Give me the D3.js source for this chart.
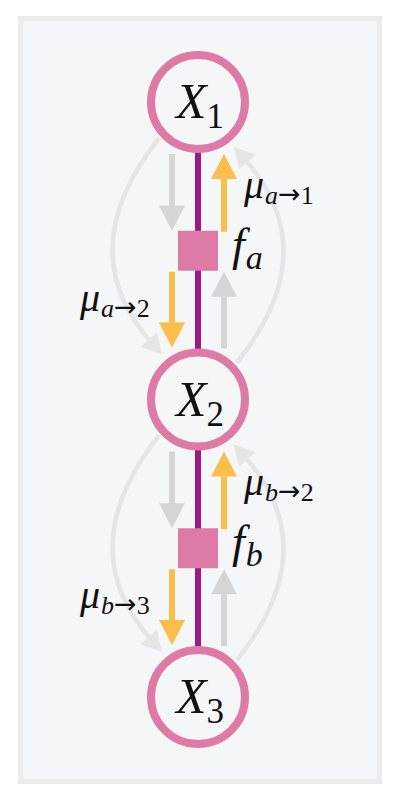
<!DOCTYPE html>
<html>
<head>
<meta charset="utf-8">
<script src="https://cdn.jsdelivr.net/npm/d3@7"></script>
<style>
  html, body { margin: 0; padding: 0; background: #fff; }
  svg { display: block; }
  text { font-family: "Liberation Serif", serif; fill: #111; }
</style>
</head>
<body>
<svg id="chart" width="400" height="800"></svg>
<script>
// chain of the factor graph, top to bottom
const variables = [
  { id: 'X1', name: 'X', sub: '1', pos: 0 },
  { id: 'X2', name: 'X', sub: '2', pos: 2 },
  { id: 'X3', name: 'X', sub: '3', pos: 4 },
];
const factors = [
  { id: 'a', pos: 1, upper: 'X1', lower: 'X2' },
  { id: 'b', pos: 3, upper: 'X2', lower: 'X3' },
];
// straight messages along each edge; factor -> variable ones are highlighted
const messages = [
  { factor: 'a', dir: 'down', from: 'X1', to: 'a', label: null },
  { factor: 'a', dir: 'up', from: 'a', to: 'X1', label: ['a', '1'] },
  { factor: 'a', dir: 'down', from: 'a', to: 'X2', label: ['a', '2'] },
  { factor: 'a', dir: 'up', from: 'X2', to: 'a', label: null },
  { factor: 'b', dir: 'down', from: 'X2', to: 'b', label: null },
  { factor: 'b', dir: 'up', from: 'b', to: 'X2', label: ['b', '2'] },
  { factor: 'b', dir: 'down', from: 'b', to: 'X3', label: ['b', '3'] },
  { factor: 'b', dir: 'up', from: 'X3', to: 'b', label: null },
];
// variable-to-variable passes drawn as faint curves
const curves = [
  { from: 'X1', to: 'X2', side: 'left' },
  { from: 'X2', to: 'X1', side: 'right' },
  { from: 'X2', to: 'X3', side: 'left' },
  { from: 'X3', to: 'X2', side: 'right' },
];

const cx = 198;
const nodeR = 47, nodeStroke = 8;
const boxSize = 40;
const colors = {
  panel: '#f5f6f8',
  border: '#ececec',
  pink: '#dd7ba6',
  edge: '#9b1a87',
  msg: '#f9be4b',
  grey: '#d5d5d5',
  curve: '#e4e5e5',
};

const y = d3.scaleLinear().domain([0, 4]).range([102, 697]);
const varById = new Map(variables.map((d) => [d.id, d]));
const facById = new Map(factors.map((d) => [d.id, d]));

const svg = d3.select('#chart');

// panel
svg.append('rect')
  .attr('x', 20.5).attr('y', 18.5)
  .attr('width', 359).attr('height', 763)
  .attr('fill', colors.panel)
  .attr('stroke', colors.border)
  .attr('stroke-width', 5);

function arrowHead(g, tip, dir, len, half, fill) {
  const [ux, uy] = dir;
  const bx = tip[0] - ux * len, by = tip[1] - uy * len;
  const px = -uy, py = ux;
  g.append('path')
    .attr('d', `M${tip[0]},${tip[1]}L${bx + px * half},${by + py * half}L${bx - px * half},${by - py * half}Z`)
    .attr('fill', fill);
}

// curved arrows
const curveG = svg.append('g').attr('class', 'curves');
curves.forEach((c) => {
  const a = y(varById.get(c.from).pos);
  const b = y(varById.get(c.to).pos);
  const down = b > a;
  const s = c.side === 'left' ? -1 : 1;
  const start = [cx + s * 39, a + (down ? 36 : -37)];
  const tip = [cx + s * 36, b + (down ? -45 : 45)];
  const ctrl = [cx + s * 128, (a + b) / 2];
  const len = 20;
  let dx = tip[0] - ctrl[0], dy = tip[1] - ctrl[1];
  const n = Math.hypot(dx, dy);
  dx /= n; dy /= n;
  const end = [tip[0] - dx * (len - 4), tip[1] - dy * (len - 4)];
  const p = d3.path();
  p.moveTo(start[0], start[1]);
  p.quadraticCurveTo(ctrl[0], ctrl[1], end[0], end[1]);
  curveG.append('path')
    .attr('d', p.toString())
    .attr('fill', 'none')
    .attr('stroke', colors.curve)
    .attr('stroke-width', 4.5);
  arrowHead(curveG, tip, [dx, dy], len, 11, colors.curve);
});

// edges
const edgeG = svg.append('g');
factors.forEach((f) => {
  edgeG.append('line')
    .attr('x1', cx).attr('x2', cx)
    .attr('y1', y(varById.get(f.upper).pos))
    .attr('y2', y(varById.get(f.lower).pos))
    .attr('stroke', colors.edge)
    .attr('stroke-width', 6);
});

// straight message arrows
const msgG = svg.append('g');
const shaftW = 6, headLen = 25, headHalf = 13;
messages.forEach((m) => {
  const f = facById.get(m.factor);
  const fy = y(f.pos);
  const isUpperHalf = m.from === f.upper || m.to === f.upper;
  const vy = y(varById.get(isUpperHalf ? f.upper : f.lower).pos);
  const x = m.dir === 'down' ? 172 : 224;
  const varEdge = isUpperHalf ? vy + 52 : vy - 52;
  const facEdge = isUpperHalf ? fy - 20 : fy + 21;
  const fromFactor = m.from === m.factor;
  const y0 = fromFactor ? facEdge : varEdge;
  const y1 = fromFactor ? varEdge : facEdge;
  const sgn = y1 > y0 ? 1 : -1;
  const fill = fromFactor ? colors.msg : colors.grey;
  msgG.append('rect')
    .attr('x', x - shaftW / 2)
    .attr('y', Math.min(y0, y1 - sgn * headLen))
    .attr('width', shaftW)
    .attr('height', Math.abs(y1 - sgn * headLen - y0) + 1)
    .attr('fill', fill);
  arrowHead(msgG, [x, y1], [0, sgn], headLen, headHalf, fill);

  if (m.label) {
    const lx = m.dir === 'up' ? 244 : 80;
    const ly = m.dir === 'up' ? fy - 53 : fy + 60;
    const t = msgG.append('text')
      .attr('x', lx).attr('y', ly)
      .attr('font-size', 40);
    t.append('tspan').attr('font-style', 'italic').text('μ');
    t.append('tspan').attr('font-style', 'italic').attr('font-size', 26)
      .attr('dx', 1).attr('dy', 6).text(m.label[0]);
    t.append('tspan').attr('font-size', 27)
      .style('font-family', '"DejaVu Sans"').attr('dy', -1).text('→');
    t.append('tspan').attr('font-size', 26).attr('dy', 1).text(m.label[1]);
  }
});

// variable nodes
const nodes = svg.append('g')
  .selectAll('g')
  .data(variables)
  .join('g')
  .attr('transform', (d) => `translate(${cx},${y(d.pos)})`);
nodes.append('circle')
  .attr('r', nodeR)
  .attr('fill', colors.panel)
  .attr('stroke', colors.pink)
  .attr('stroke-width', nodeStroke);
nodes.append('text')
  .attr('x', 2).attr('y', 16)
  .attr('text-anchor', 'middle')
  .attr('font-size', 50)
  .call((t) => t.append('tspan').attr('font-style', 'italic').text((d) => d.name))
  .call((t) => t.append('tspan').attr('font-size', 35).attr('dy', 10).text((d) => d.sub));

// factor nodes
const facs = svg.append('g')
  .selectAll('g')
  .data(factors)
  .join('g')
  .attr('transform', (d) => `translate(${cx},${y(d.pos)})`);
facs.append('rect')
  .attr('x', -boxSize / 2).attr('y', -boxSize / 2)
  .attr('width', boxSize).attr('height', boxSize)
  .attr('fill', colors.pink);
facs.append('text')
  .attr('x', 34).attr('y', 9)
  .attr('font-size', 46)
  .attr('font-style', 'italic')
  .call((t) => t.append('tspan').text('f'))
  .call((t) => t.append('tspan').attr('font-size', 34).attr('dx', 1).attr('dy', 9).text((d) => d.id));
</script>
</body>
</html>
